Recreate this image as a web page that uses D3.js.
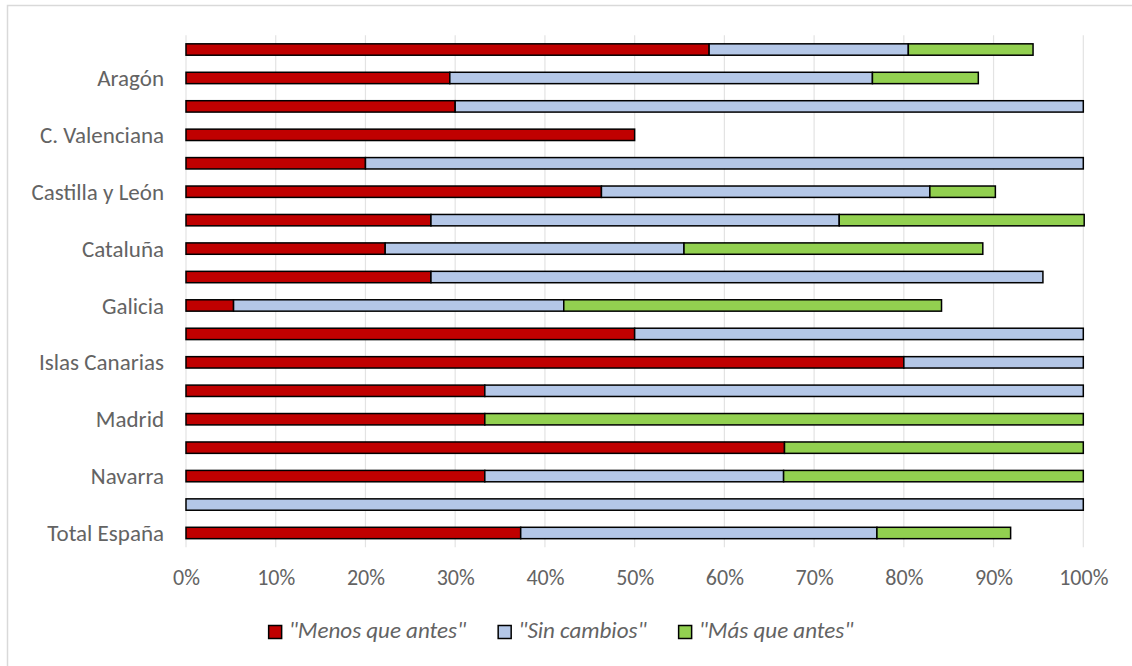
<!DOCTYPE html>
<html>
<head>
<meta charset="utf-8">
<script src="https://cdn.jsdelivr.net/npm/d3@7"></script>
<style>
  html, body { margin: 0; padding: 0; background: #fff; }
  svg { display: block; }
  text { font-family: Carlito, Calibri, Lato, "Open Sans", sans-serif; fill: #636363; }
</style>
</head>
<body>
<svg id="chart" width="1132" height="666"></svg>
<script>
// Regions, top to bottom
const categories = [
  "Andalucía", "Aragón", "Asturias", "C. Valenciana", "Cantabria",
  "Castilla y León", "Castilla-La Mancha", "Cataluña", "Extremadura",
  "Galicia", "Islas Baleares", "Islas Canarias", "La Rioja", "Madrid",
  "Murcia", "Navarra", "País Vasco", "Total España"
];

// Share of answers per region (%)
const menosQueAntes = [58.3, 29.4, 30.0, 50.0, 20.0, 46.3, 27.3, 22.2, 27.3, 5.3, 50.0, 80.0, 33.3, 33.3, 66.7, 33.3, 0, 37.3];
const sinCambios    = [22.2, 47.1, 70.0, 0, 80.0, 36.6, 45.5, 33.3, 68.2, 36.8, 50.0, 20.0, 66.7, 0, 0, 33.3, 100, 39.7];
const masQueAntes   = [13.9, 11.8, 0, 0, 0, 7.3, 27.3, 33.3, 0, 42.1, 0, 0, 0, 66.7, 33.3, 33.4, 0, 14.9];

const seriesNames  = ["\"Menos que antes\"", "\"Sin cambios\"", "\"Más que antes\""];
const seriesColors = ["#C00000", "#B4C7E7", "#92D050"];

const xTicks = [0, 10, 20, 30, 40, 50, 60, 70, 80, 90, 100];
// Only every other region gets an axis label
const labeledCategories = categories.filter((d, i) => i % 2 === 1);

const svg = d3.select("#chart");

// Chart frame
svg.append("rect")
  .attr("x", 7.5).attr("y", 5.5)
  .attr("width", 1200).attr("height", 700)
  .attr("fill", "none").attr("stroke", "#d9d9d9").attr("stroke-width", 1.5);

const plot = { left: 186, right: 1083.3, top: 35.3, bottom: 547.2 };

const x = d3.scaleLinear().domain([0, 100]).range([plot.left, plot.right]);
const y = d3.scaleBand().domain(categories)
  .range([plot.top, plot.bottom])
  .paddingInner(0.6).paddingOuter(0.3);

// Vertical gridlines
svg.append("g")
  .selectAll("line")
  .data(xTicks)
  .join("line")
  .attr("x1", d => x(d)).attr("x2", d => x(d))
  .attr("y1", plot.top).attr("y2", plot.bottom)
  .attr("stroke", "#e3e3e3").attr("stroke-width", 1.2);

// Stacked bars
const rows = categories.map((c, i) => ({
  cat: c, s0: menosQueAntes[i], s1: sinCambios[i], s2: masQueAntes[i]
}));
const stack = d3.stack().keys(["s0", "s1", "s2"]);
const layers = stack(rows);

svg.append("g")
  .selectAll("g")
  .data(layers)
  .join("g")
  .attr("fill", (d, i) => seriesColors[i])
  .selectAll("rect")
  .data(d => d.filter(p => p[1] - p[0] > 0))
  .join("rect")
  .attr("x", p => x(p[0]))
  .attr("y", p => y(p.data.cat))
  .attr("width", p => x(p[1]) - x(p[0]))
  .attr("height", y.bandwidth())
  .attr("stroke", "#000").attr("stroke-width", 1.5);

// Category axis
const yAxis = d3.axisLeft(y).tickValues(labeledCategories).tickSize(0).tickPadding(22);
const gy = svg.append("g").attr("transform", `translate(${plot.left},0)`).call(yAxis);
gy.select(".domain").remove();
gy.selectAll("text").style("font-size", "23px").attr("fill", "#636363").attr("dy", "0.35em");

// Percentage axis
const xAxis = d3.axisBottom(x).tickValues(xTicks).tickFormat(d => d + "%").tickSize(0).tickPadding(0);
const gx = svg.append("g").attr("transform", `translate(0,585)`).call(xAxis);
gx.select(".domain").remove();
gx.selectAll("text").style("font-size", "22px").attr("fill", "#636363").attr("dy", "0");

// Legend
const legend = svg.append("g");
const items = legend.selectAll("g")
  .data(seriesNames)
  .join("g");
items.append("rect")
  .attr("width", 13).attr("height", 13)
  .attr("y", -12.5)
  .attr("fill", (d, i) => seriesColors[i])
  .attr("stroke", "#000").attr("stroke-width", 1.5);
items.append("text")
  .attr("x", 20)
  .style("font-size", "23px").style("font-style", "italic")
  .text(d => d);

let offset = 0;
const gap = 32;
items.each(function () {
  const w = 20 + this.querySelector("text").getComputedTextLength();
  d3.select(this).attr("transform", `translate(${offset},0)`);
  offset += w + gap;
});
const legendWidth = offset - gap;
legend.attr("transform", `translate(${561 - legendWidth / 2},638)`);
</script>
</body>
</html>
